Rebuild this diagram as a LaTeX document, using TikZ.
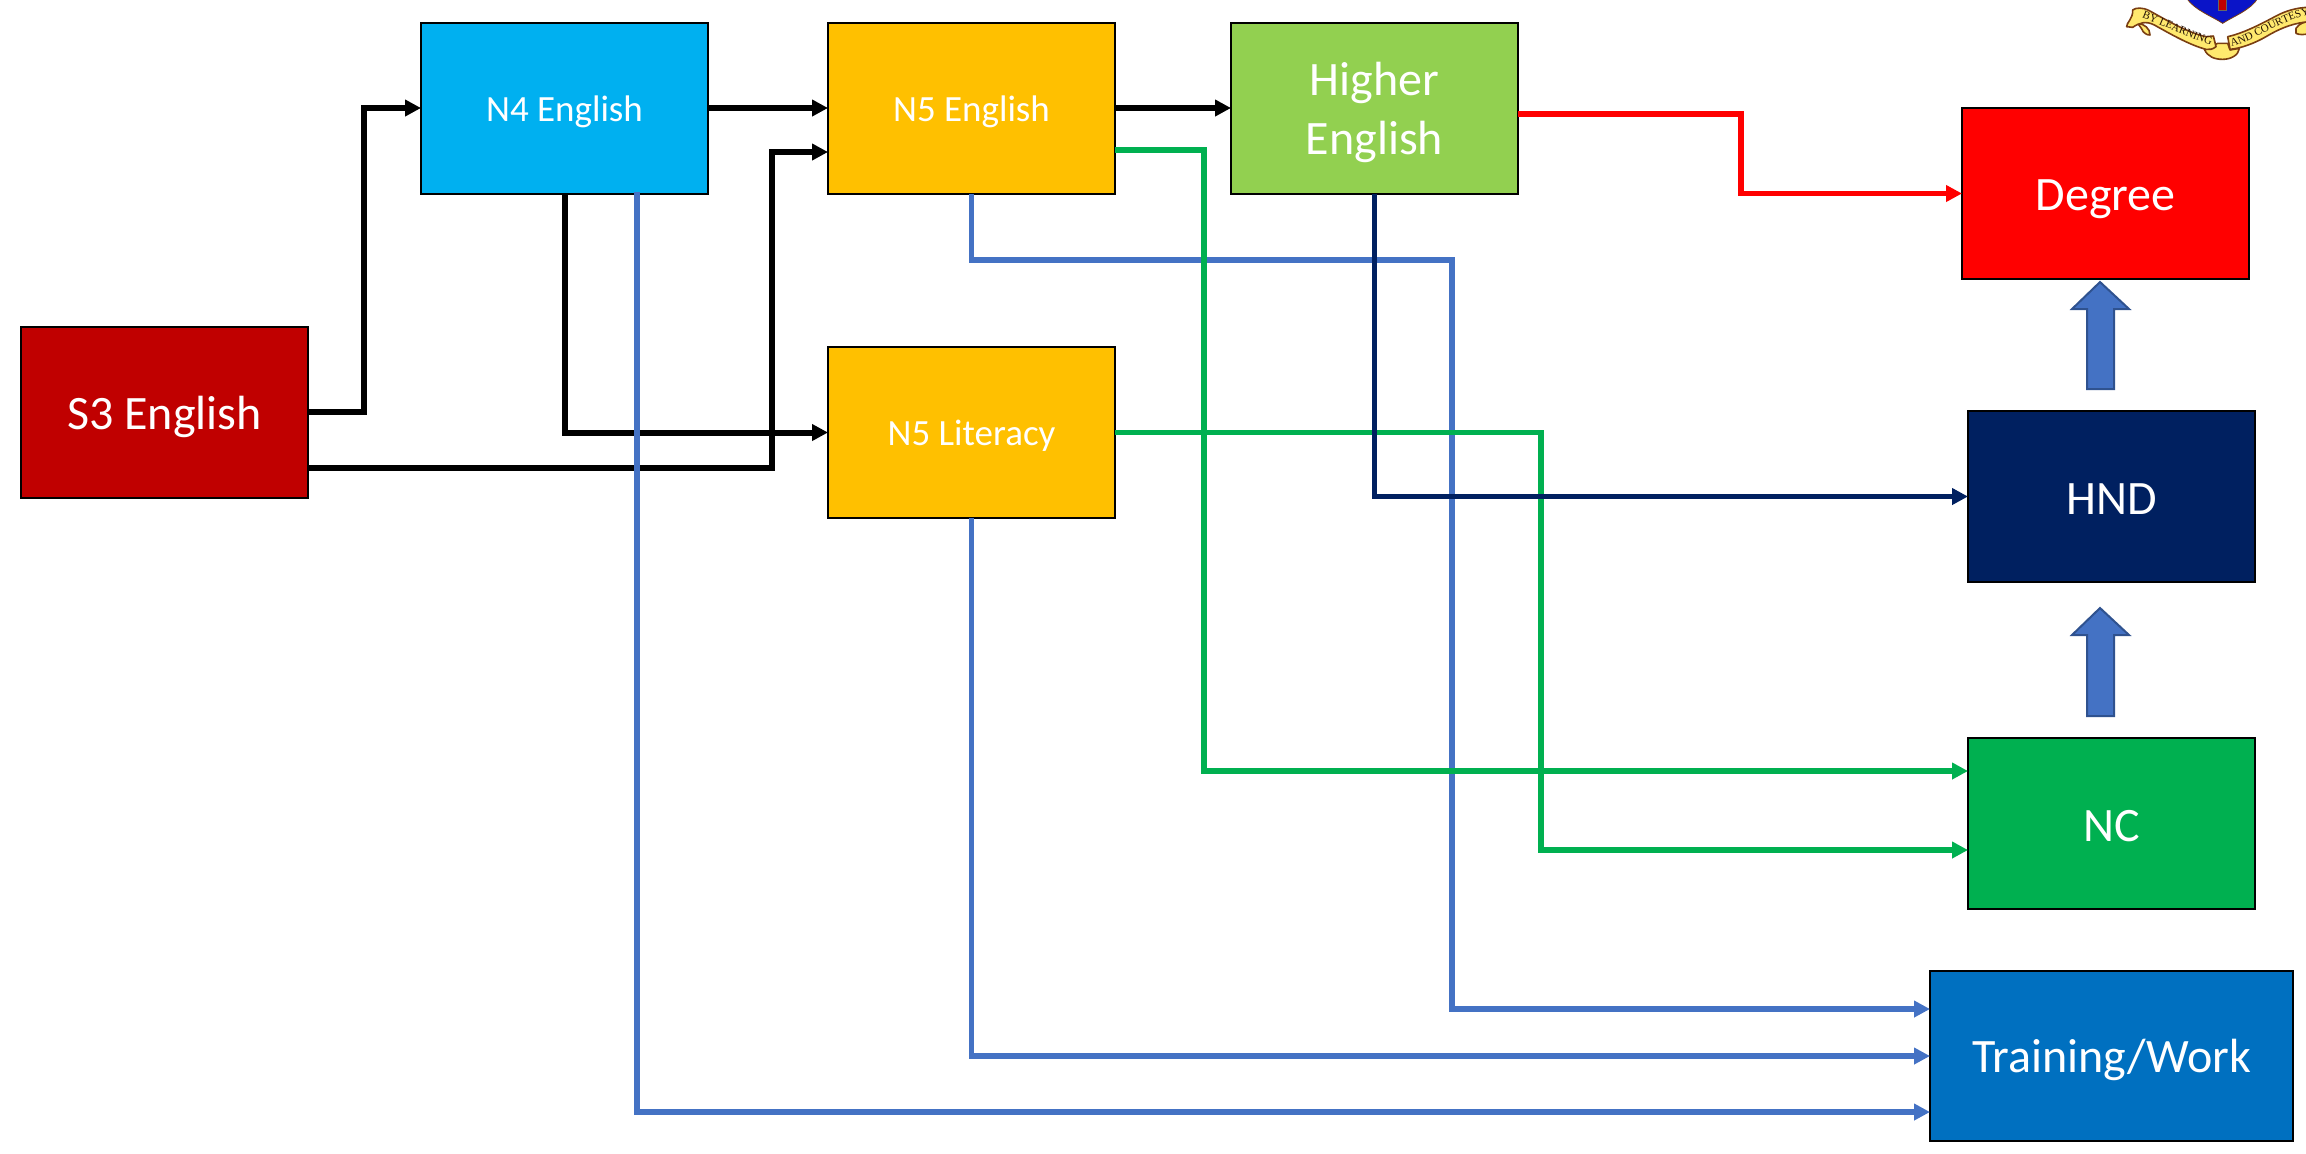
\documentclass[tikz,border=0pt]{standalone}
\usepackage{fontspec}
\setmainfont{Carlito}
\newfontfamily\crestfont{Liberation Serif}
\usetikzlibrary{arrows.meta,decorations.text}
\definecolor{cS}{HTML}{C00000}
\definecolor{cN}{HTML}{00B0F0}
\definecolor{cA}{HTML}{FFC000}
\definecolor{cH}{HTML}{92D050}
\definecolor{cR}{HTML}{FF0000}
\definecolor{cD}{HTML}{002060}
\definecolor{cG}{HTML}{00B050}
\definecolor{cT}{HTML}{0070C0}
\definecolor{cB}{HTML}{4472C4}
\definecolor{cBd}{HTML}{2F528F}
\definecolor{cScroll}{HTML}{FFE96E}
\definecolor{cScrollD}{HTML}{7A3E12}
\definecolor{cShield}{HTML}{0A14C8}
\tikzset{
  x=0.5pt,y=-0.5pt,
  boxa/.style={draw=black,line width=1.3pt,text=white,align=center,inner sep=0pt,outer sep=0pt,anchor=north west,minimum width=143.5pt,minimum height=85.5pt},
  big/.style={font=\fontsize{24}{29.5}\selectfont},
  small/.style={font=\fontsize{18.5}{22}\selectfont},
  conn/.style={line width=3pt,-{Triangle[length=8pt,width=8pt]}},
  colconn/.style={line width=2.6pt,-{Triangle[length=8pt,width=8pt]}},
  blockup/.style={fill=cB,draw=cBd,line width=1pt},
  scroll/.style={fill=cScroll,draw=cScrollD,line width=0.8pt,line join=round},
  motto/.style={decorate,decoration={text along path,text align=center,text color=black!70!cScrollD,text={|\fontsize{5.5}{6}\crestfont|#1}}}
}
\newcommand{\lowtext}[2]{\raisebox{-#1}[\height][\depth]{#2}}
\begin{document}
\begin{tikzpicture}
\useasboundingbox (0,0) rectangle (2306,1153);
\node[boxa,big,fill=cS] (s3) at (21,327) {\lowtext{2.2pt}{S3 English}};
\node[boxa,small,fill=cN] (n4) at (421,23) {\lowtext{1.5pt}{N4 English}};
\node[boxa,small,fill=cA] (n5e) at (828,23) {\lowtext{1.5pt}{N5 English}};
\node[boxa,big,fill=cH] (hi) at (1231,23) {\lowtext{2pt}{Higher}\\\lowtext{2pt}{English}};
\node[boxa,small,fill=cA] (n5l) at (828,347) {\lowtext{1.5pt}{N5 Literacy}};
\node[boxa,big,fill=cR] (deg) at (1962,108) {\lowtext{3pt}{Degree}};
\node[boxa,big,fill=cD] (hnd) at (1968,411) {\lowtext{1.5pt}{HND}};
\node[boxa,big,fill=cG] (nc) at (1968,738) {\lowtext{1.5pt}{NC}};
\node[boxa,big,fill=cT,minimum width=181.5pt,minimum height=85pt] (tw) at (1930,971) {\lowtext{2pt}{Training/Work}};
% connectors
\coordinate (a1) at (s3.east |- 0,412);
\coordinate (a2) at (s3.east |- 0,468);
\draw[conn] (a1) -| (364,108) -- (n4.west |- 0,108);
\draw[conn] (a2) -| (772,152) -- (n5e.west |- 0,152);
\draw[conn] (n4.east |- 0,108) -- (n5e.west |- 0,108);
\draw[conn] (n4.south) |- (n5l.west);
\draw[conn] (n5e.east |- 0,108) -- (hi.west |- 0,108);
\draw[colconn,cB] (637,192) |- (tw.west |- 0,1112);
\draw[colconn,cB] (n5e.south) |- (1452,260) |- (tw.west |- 0,1009);
\draw[colconn,cB] (n5l.south) |- (tw.west |- 0,1056);
\draw[colconn,cG] (n5e.east |- 0,150) -| (1204,771) -- (nc.west |- 0,771);
\draw[colconn,cG] (n5l.east) -| (1541,850) -- (nc.west |- 0,850);
\draw[colconn,cD] (hi.south) |- (hnd.west);
\draw[colconn,cR] (hi.east |- 0,114) -- (1741,114) |- (deg.west);
% block arrows
\draw[blockup] (2087,389) -- (2087,309) -- (2072,309) -- (2100,282) -- (2129,309) -- (2114,309) -- (2114,389) -- cycle;
\draw[blockup] (2087,716) -- (2087,635) -- (2072,635) -- (2100,608) -- (2129,635) -- (2114,635) -- (2114,716) -- cycle;
% crest (coordinates in thirds of a pixel from its corner)
\begin{scope}[shift={(2126,0)},x=0.16667pt,y=-0.16667pt]
\fill[cShield,draw=cScrollD,line width=0.4pt] (182,-5) .. controls (205,30) and (260,50) .. (290,70) .. controls (320,50) and (375,30) .. (395,-5) -- cycle;
\fill[red!75!black,draw=black!60,line width=0.3pt] (277,-5) rectangle (300,30);
\path[scroll] (240,148) -- (275,130) -- (305,130) -- (312,150) -- (340,145) .. controls (338,165) and (315,178) .. (290,178) .. controls (265,178) and (245,170) .. (235,148) -- cycle;
\path[scroll] (35,70) .. controls (55,72) and (72,85) .. (72,105) .. controls (62,105) and (52,100) .. (46,85) -- cycle;
\path[scroll] (20,30) .. controls (30,22) and (50,22) .. (70,32) .. controls (120,60) and (190,100) .. (240,110) -- (262,108) -- (270,140) .. controls (260,148) and (250,150) .. (240,148) .. controls (190,135) and (130,100) .. (85,75) .. controls (60,62) and (40,68) .. (20,82) -- (2,80) .. controls (0,70) and (22,55) .. (20,30) -- cycle;
\path[scroll] (510,85) .. controls (520,70) and (535,65) .. (550,65) -- (550,100) .. controls (535,105) and (520,105) .. (510,100) -- cycle;
\path[scroll] (305,110) .. controls (350,100) and (400,75) .. (450,48) .. controls (480,32) and (515,22) .. (550,22) -- (550,65) .. controls (510,68) and (470,80) .. (420,110) .. controls (385,130) and (345,145) .. (312,148) -- cycle;
\path[motto={BY LEARNING}] (40,50) .. controls (100,72) and (190,115) .. (262,138);
\path[motto={AND COURTESY}] (320,138) .. controls (390,120) and (470,60) .. (548,44);
\end{scope}
\end{tikzpicture}
\end{document}
